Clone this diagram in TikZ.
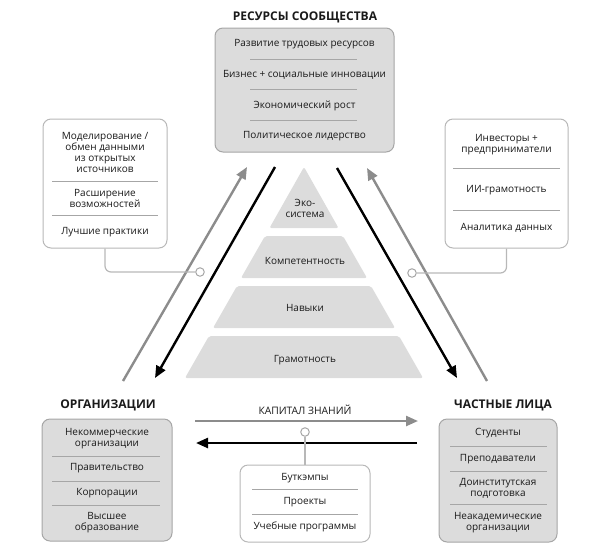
\documentclass[tikz,border=0pt]{standalone}
\usepackage{fontspec}
\setmainfont{Open Sans}
\usetikzlibrary{arrows.meta}
\definecolor{boxgray}{HTML}{DCDCDC}
\definecolor{edgegray}{HTML}{A6A6A6}
\definecolor{arrowgray}{HTML}{8C8C8C}
\definecolor{txt}{HTML}{1A1A1A}
\tikzset{
  graybox/.style={draw=edgegray, fill=boxgray, rounded corners=8pt, line width=1pt, inner sep=0pt},
  whitebox/.style={draw=edgegray!80, fill=white, rounded corners=8pt, line width=1pt, inner sep=0pt},
  item/.style={align=center, text=txt, font=\fontsize{10}{11}\selectfont, inner sep=0pt},
  heading/.style={text=txt, font=\fontsize{12}{13}\selectfont\bfseries, inner sep=0pt},
  sep/.style={draw=edgegray, line width=0.8pt},
  layer/.style={fill=boxgray, rounded corners=2pt},
  flowgray/.style={draw=arrowgray, line width=2.4pt, -{Triangle[length=12pt,width=10pt]}},
  flowblack/.style={draw=black, line width=2.4pt, -{Triangle[length=12pt,width=10pt]}},
  link/.style={draw=edgegray!80, line width=1.2pt, rounded corners=6pt},
  knot/.style={circle, draw=edgegray, fill=white, line width=1pt, minimum size=8.5pt, inner sep=0pt}
}
\begin{document}
\begin{tikzpicture}[x=1pt, y=-1pt]
  \useasboundingbox (0,0) rectangle (593,555);

  % pyramid
  \fill[layer] (304,167) -- (338.5,228) -- (269.5,228) -- cycle;
  \fill[layer] (265,236) -- (343,236) -- (367,278) -- (241,278) -- cycle;
  \fill[layer] (237,286) -- (371,286) -- (395,328) -- (213,328) -- cycle;
  \fill[layer] (209,336) -- (399,336) -- (423,378) -- (185,378) -- cycle;
  \node[item] (eco) at (305,208) {Эко-\\система};
  \node[item] (comp) at (305,261) {Компетентность};
  \node[item] (skill) at (305,308) {Навыки};
  \node[item] (lit) at (305,360) {Грамотность};

  % community resources
  \node[heading] (restitle) at (305,17) {РЕСУРСЫ СООБЩЕСТВА};
  \node[graybox, minimum width=179pt, minimum height=124pt] (res) at (304.5,90) {};
  \node[item] (res1) at (304.5,44) {Развитие трудовых ресурсов};
  \node[item] (res2) at (304.5,75) {Бизнес + социальные инновации};
  \node[item] (res3) at (304.5,106) {Экономический рост};
  \node[item] (res4) at (304.5,136) {Политическое лидерство};
  \draw[sep] (250,59) -- (357,59);
  \draw[sep] (250,89.5) -- (357,89.5);
  \draw[sep] (250,120) -- (357,120);

  % left note
  \node[whitebox, minimum width=124pt, minimum height=129pt] (lbox) at (105,183.5) {};
  \node[item] (l1) at (105,152.5) {Моделирование /\\обмен данными\\из открытых\\источников};
  \node[item] (l2) at (105,198) {Расширение\\возможностей};
  \node[item] (l3) at (105,232) {Лучшие практики};
  \draw[sep] (52,181) -- (158,181);
  \draw[sep] (52,215) -- (158,215);

  % right note
  \node[whitebox, minimum width=123pt, minimum height=129pt] (rbox) at (506.5,183.5) {};
  \node[item] (r1) at (506.5,145) {Инвесторы +\\предприниматели};
  \node[item] (r2) at (506.5,190) {ИИ-грамотность};
  \node[item] (r3) at (506.5,228) {Аналитика данных};
  \draw[sep] (453,168) -- (560,168);
  \draw[sep] (453,210) -- (560,210);

  % organisations
  \node[heading] (orgtitle) at (108,405) {ОРГАНИЗАЦИИ};
  \node[graybox, minimum width=130pt, minimum height=122pt] (org) at (107,480) {};
  \node[item] (o1) at (107,438.5) {Некоммерческие\\организации};
  \node[item] (o2) at (107,468) {Правительство};
  \node[item] (o3) at (107,493) {Корпорации};
  \node[item] (o4) at (107,522.5) {Высшее\\образование};
  \draw[sep] (52,456) -- (160,456);
  \draw[sep] (52,481) -- (160,481);
  \draw[sep] (52,505) -- (160,505);

  % individuals
  \node[heading] (indtitle) at (503,405) {ЧАСТНЫЕ ЛИЦА};
  \node[graybox, minimum width=118pt, minimum height=123pt] (ind) at (498,480.5) {};
  \node[item] (i1) at (498,433) {Студенты};
  \node[item] (i2) at (498,459) {Преподаватели};
  \node[item] (i3) at (498,488.5) {Доинститутская\\подготовка};
  \node[item] (i4) at (498,522.5) {Неакадемические\\организации};
  \draw[sep] (450,446) -- (547,446);
  \draw[sep] (450,471) -- (547,471);
  \draw[sep] (450,504) -- (547,504);

  % knowledge capital
  \node[item, font=\fontsize{10.3}{11}\selectfont] (captitle) at (305,410) {КАПИТАЛ ЗНАНИЙ};
  \node[whitebox, minimum width=130pt, minimum height=77pt] (kbox) at (305,503.5) {};
  \node[item] (k1) at (305,478) {Буткэмпы};
  \node[item] (k2) at (305,502) {Проекты};
  \node[item] (k3) at (305,527) {Учебные программы};
  \draw[sep] (252,489.5) -- (358,489.5);
  \draw[sep] (252,514) -- (358,514);

  % flows
  \coordinate (lg0) at (123,381); \coordinate (lg1) at (247,167);
  \coordinate (lb0) at (275,167); \coordinate (lb1) at (155,378);
  \coordinate (rb0) at (337,168); \coordinate (rb1) at (457,378);
  \coordinate (rg0) at (487,381); \coordinate (rg1) at (367,168);
  \coordinate (hg0) at (195,421); \coordinate (hg1) at (418,421);
  \coordinate (hb0) at (417,443); \coordinate (hb1) at (196,443);
  \draw[flowgray] (lg0) -- (lg1);
  \draw[flowblack] (lb0) -- (lb1);
  \draw[flowblack] (rb0) -- (rb1);
  \draw[flowgray] (rg0) -- (rg1);
  \draw[flowgray] (hg0) -- (hg1);
  \draw[flowblack] (hb0) -- (hb1);

  % links
  \node[knot] (lknot) at (200,272) {};
  \node[knot] (rknot) at (412,273) {};
  \node[knot] (kknot) at (305,432) {};
  \draw[link] (lbox.south) |- (lknot.west);
  \draw[link] (rbox.south) |- (rknot.east);
  \draw[link] (kknot.south) -- (kbox.north);
\end{tikzpicture}
\end{document}
